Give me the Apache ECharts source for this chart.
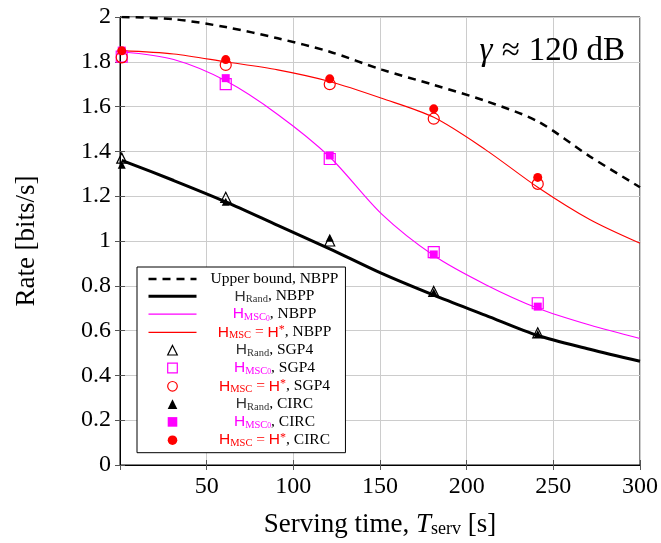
<!DOCTYPE html>
<html><head><meta charset="utf-8">
<script src="https://cdn.jsdelivr.net/npm/echarts@6/dist/echarts.min.js"></script>
<style>html,body{margin:0;padding:0;background:#fff}#c{width:661px;height:543px}</style>
</head><body><div id="c"></div>
<script>
// ---- data ----
const xCurve = [1, 31, 61, 91, 121, 151, 181, 211, 241, 271, 300];
const upperBound = [2.0, 1.99, 1.955, 1.905, 1.845, 1.765, 1.697, 1.625, 1.534, 1.378, 1.24];
const randNBPP = [1.36, 1.27, 1.175, 1.07, 0.965, 0.855, 0.758, 0.668, 0.578, 0.517, 0.463];
const msc0NBPP = [1.845, 1.81, 1.715, 1.565, 1.375, 1.12, 0.935, 0.805, 0.70, 0.625, 0.565];
const mscNBPP = [1.85, 1.835, 1.80, 1.764, 1.712, 1.637, 1.552, 1.407, 1.24, 1.096, 0.99];
const xMarks = [1, 61, 121, 181, 241];
const randSGP4 = [1.37, 1.195, 1.0, 0.775, 0.59];
const msc0SGP4 = [1.823, 1.70, 1.366, 0.95, 0.722];
const mscSGP4 = [1.82, 1.786, 1.70, 1.546, 1.255];
const randCIRC = [1.34, 1.175, 1.015, 0.77, 0.585];
const msc0CIRC = [1.85, 1.727, 1.382, 0.94, 0.707];
const mscCIRC = [1.849, 1.81, 1.724, 1.59, 1.284];
const xAxisRange = [0, 300, 50];
const yAxisRange = [0, 2, 0.2];
const names = ['Upper bound, NBPP', 'HRand, NBPP', 'HMSC0, NBPP', 'HMSC, NBPP',
  'HRand, SGP4', 'HMSC0, SGP4', 'HMSC, SGP4', 'HRand, CIRC', 'HMSC0, CIRC', 'HMSC, CIRC'];

const pair = (xs, ys) => xs.map((x, i) => [x, ys[i]]);
const SERIF = 'Liberation Serif';
const SANS = 'Liberation Sans';
const MAG = '#ff00ff', RED = '#ff0000', BLK = '#000000';

function legendLabel(name) {
  const parts = name.split(', ');
  const tail = '{n|, ' + parts[1] + '}';
  if (parts[0] === 'Upper bound') return '{n|Upper bound, NBPP}';
  if (parts[0] === 'HRand') return '{hk|H}{sk|Rand}' + tail;
  if (parts[0] === 'HMSC0') return '{hm|H}{sm|MSC}{ssm|0}' + tail;
  return '{hr|H}{sr|MSC}{er| = }{hr|H}{st|*}' + tail;
}
const FS = 15.5, SFS = 10.5;
const rich = {
  n: {fontFamily: SERIF, fontSize: FS, lineHeight: 17, color: BLK, align: 'center'},
  hk: {fontFamily: SANS, fontSize: FS, lineHeight: 17, color: '#333', align: 'center'},
  hm: {fontFamily: SANS, fontSize: FS, lineHeight: 17, color: MAG, align: 'center'},
  hr: {fontFamily: SANS, fontSize: FS, lineHeight: 17, color: RED, align: 'center'},
  er: {fontFamily: SERIF, fontSize: FS, lineHeight: 17, color: RED, align: 'center'},
  sk: {fontFamily: SERIF, fontSize: SFS, lineHeight: 10, color: '#333', verticalAlign: 'bottom', align: 'center'},
  sm: {fontFamily: SERIF, fontSize: SFS, lineHeight: 10, color: MAG, verticalAlign: 'bottom', align: 'center'},
  ssm: {fontFamily: SERIF, fontSize: 7.5, lineHeight: 6, color: MAG, verticalAlign: 'bottom', align: 'center'},
  sr: {fontFamily: SERIF, fontSize: SFS, lineHeight: 10, color: RED, verticalAlign: 'bottom', align: 'center'},
  st: {fontFamily: SERIF, fontSize: 12, lineHeight: 10, color: RED, verticalAlign: 'top', align: 'center'}
};

function lineSeries(name, ys, color, width, type) {
  return {name, type: 'line', data: pair(xCurve, ys), symbol: 'none', smooth: 0.3,
    lineStyle: {color, width, type: type || 'solid'}, itemStyle: {color, opacity: 0},
    z: 2, silent: true, animation: false};
}
// markers drawn as symbol-only line series (connecting line hidden) so legend symbols keep their aspect
function markSeries(name, ys, color, symbol, size, open) {
  return {name, type: 'line', data: pair(xMarks, ys), symbol, symbolSize: size, showSymbol: true,
    lineStyle: {color, width: 0, opacity: 0},
    itemStyle: open ? {color: 'rgba(255,255,255,0)', borderColor: color, borderWidth: 1.2, opacity: 1}
                    : {color, borderWidth: 0, opacity: 1},
    z: open ? 3 : 4, silent: true, animation: false};
}

const chart = echarts.init(document.getElementById('c'), null, {renderer: 'canvas'});
chart.setOption({
  backgroundColor: '#fff',
  animation: false,
  title: {
    text: '{g|γ}{a|≈}{t|120 dB}', right: 31, top: 30,
    textStyle: {fontFamily: SERIF, fontSize: 33, fontWeight: 'normal', color: '#000',
      rich: {
        g: {fontFamily: SERIF, fontStyle: 'italic', fontSize: 33, color: '#000'},
        a: {fontFamily: SERIF, fontSize: 33, color: '#000', padding: [0, 9, 0, 9]},
        t: {fontFamily: SERIF, fontSize: 33, color: '#000'}
      }}
  },
  grid: {left: 120, right: 20, top: 17, bottom: 77, show: true, borderColor: '#000', borderWidth: 1, backgroundColor: 'transparent'},
  legend: {
    orient: 'vertical', left: 137, top: 267, padding: [4, 7, 4, 10],
    itemWidth: 48, itemHeight: 12, itemGap: 1.3,
    backgroundColor: '#fff', borderColor: '#000', borderWidth: 1,
    data: names, selectedMode: false,
    formatter: legendLabel,
    textStyle: {width: 146, fontFamily: SERIF, fontSize: FS, color: '#000', rich},
    lineStyle: {width: 'inherit'},
    itemStyle: {borderWidth: 'inherit'}
  },
  xAxis: [{
    type: 'value', min: xAxisRange[0], max: xAxisRange[1], interval: xAxisRange[2],
    name: 'Serving time, {i|T}{s|serv} [s]', nameLocation: 'middle', nameGap: 46,
    nameTextStyle: {fontFamily: SERIF, fontSize: 27, color: '#000',
      rich: {i: {fontFamily: SERIF, fontStyle: 'italic', fontSize: 27}, s: {fontFamily: SERIF, fontSize: 18, verticalAlign: 'bottom', lineHeight: 14}}},
    axisLine: {show: true, lineStyle: {color: '#000', width: 1}},
    axisTick: {show: true, inside: true, length: 5, lineStyle: {color: '#555'}},
    axisLabel: {fontFamily: SERIF, fontSize: 24, color: '#000', margin: 10, showMinLabel: false},
    splitLine: {show: true, lineStyle: {color: '#cccccc', width: 1}}
  }, {
    type: 'value', position: 'top', min: xAxisRange[0], max: xAxisRange[1], interval: xAxisRange[2],
    axisLine: {show: true, lineStyle: {color: '#000'}},
    axisTick: {show: true, inside: true, length: 5, lineStyle: {color: '#555'}},
    axisLabel: {show: false}, splitLine: {show: false}
  }],
  yAxis: [{
    type: 'value', min: yAxisRange[0], max: yAxisRange[1], interval: yAxisRange[2],
    name: 'Rate [bits/s]', nameLocation: 'middle', nameGap: 80, nameRotate: 90,
    nameTextStyle: {fontFamily: SERIF, fontSize: 27, color: '#000'},
    axisLine: {show: true, lineStyle: {color: '#000', width: 1}},
    axisTick: {show: true, inside: true, length: 5, lineStyle: {color: '#555'}},
    axisLabel: {fontFamily: SERIF, fontSize: 24, color: '#000', margin: 9},
    splitLine: {show: true, lineStyle: {color: '#cccccc', width: 1}}
  }, {
    type: 'value', position: 'right', min: yAxisRange[0], max: yAxisRange[1], interval: yAxisRange[2],
    axisLine: {show: true, lineStyle: {color: '#000'}},
    axisTick: {show: true, inside: true, length: 5, lineStyle: {color: '#555'}},
    axisLabel: {show: false}, splitLine: {show: false}
  }],
  series: [
    lineSeries(names[0], upperBound, BLK, 2.5, [8, 6]),
    lineSeries(names[1], randNBPP, BLK, 3),
    lineSeries(names[2], msc0NBPP, MAG, 1.1),
    lineSeries(names[3], mscNBPP, RED, 1.1),
    markSeries(names[4], randSGP4, BLK, 'triangle', 10, true),
    markSeries(names[5], msc0SGP4, MAG, 'rect', 11, true),
    markSeries(names[6], mscSGP4, RED, 'circle', 11, true),
    markSeries(names[7], randCIRC, BLK, 'triangle', 8, false),
    markSeries(names[8], msc0CIRC, MAG, 'rect', 8, false),
    markSeries(names[9], mscCIRC, RED, 'circle', 9, false)
  ]
});
</script></body></html>
